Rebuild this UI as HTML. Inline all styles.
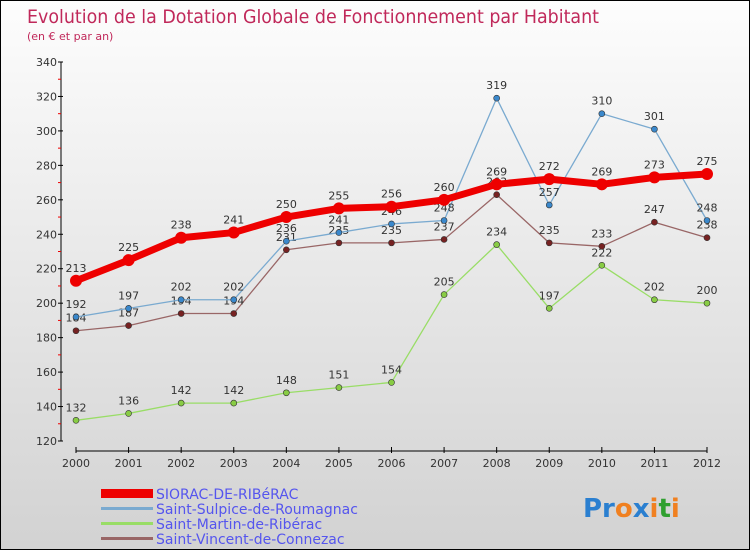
<!DOCTYPE html>
<html><head><meta charset="utf-8"><style>
body{margin:0}
#c{width:750px;height:550px;position:relative;box-sizing:border-box;border:1px solid #000;background:linear-gradient(#fdfdfd,#d2d2d2);font-family:"DejaVu Sans","Liberation Sans",sans-serif;overflow:hidden}
svg text{font-family:"DejaVu Sans","Liberation Sans",sans-serif}
</style></head><body>
<div id="c">
<svg id="s" width="750" height="550">
<text x="26" y="22" font-size="19" fill="#c0285a" textLength="572" lengthAdjust="spacingAndGlyphs">Evolution de la Dotation Globale de Fonctionnement par Habitant</text>
<text x="26" y="39" font-size="11" fill="#c0285a">(en € et par an)</text>
<g id="ax"></g><g id="ser"></g>
<g>
<rect x="100" y="488" width="52" height="9" fill="#e00"/>
<text x="155" y="498" font-size="14" fill="#5555ee">SIORAC-DE-RIBéRAC</text>
<rect x="100" y="506" width="52" height="3" fill="#7aaad0"/>
<text x="155" y="513" font-size="14" fill="#5555ee">Saint-Sulpice-de-Roumagnac</text>
<rect x="100" y="521" width="52" height="3" fill="#99dd66"/>
<text x="155" y="528" font-size="14" fill="#5555ee">Saint-Martin-de-Ribérac</text>
<rect x="100" y="536" width="52" height="3" fill="#996666"/>
<text x="155" y="543" font-size="14" fill="#5555ee">Saint-Vincent-de-Connezac</text>
</g>
<text x="582" y="516" font-size="26" font-weight="bold"><tspan fill="#2a7fd0">Pr</tspan><tspan fill="#f08020">o</tspan><tspan fill="#2a7fd0">x</tspan><tspan fill="#f08020">i</tspan><tspan fill="#30a030">t</tspan><tspan fill="#f08020">i</tspan></text>
</svg>
</div>
<script>
const years=[2000,2001,2002,2003,2004,2005,2006,2007,2008,2009,2010,2011,2012];
const yTicks=[120,140,160,180,200,220,240,260,280,300,320,340];
const siorac=[213,225,238,241,250,255,256,260,269,272,269,273,275];
const sulpice=[192,197,202,202,236,241,246,248,319,257,310,301,248];
const martin=[132,136,142,142,148,151,154,205,234,197,222,202,200];
const vincent=[184,187,194,194,231,235,235,237,263,235,233,247,238];
const NS='http://www.w3.org/2000/svg';
function X(i){return 75+i*(706-75)/12;}
function Y(v){return 440-(v-120)*(440-61)/220;}
function mk(t,a,p){const e=document.createElementNS(NS,t);for(const k in a)e.setAttribute(k,a[k]);p.appendChild(e);return e;}
const ax=document.getElementById('ax');
let e=mk('line',{x1:60,y1:Y(340),x2:60,y2:440,stroke:'#000'},ax);


yTicks.forEach(v=>{
 mk('line',{x1:57,x2:62,y1:Y(v),y2:Y(v),stroke:'#000'},ax);
 if(v<340)mk('line',{x1:57,x2:60,y1:Y(v+10),y2:Y(v+10),stroke:'#e00'},ax);
 const t=mk('text',{x:56,y:Y(v)+4,'text-anchor':'end','font-size':11,fill:'#333'},ax);
 t.textContent=v;
 
 
});
e=mk('line',{x1:75,y1:450,x2:706,y2:450,stroke:'#000'},ax);


years.forEach((y,i)=>{
 mk('line',{x1:X(i),x2:X(i),y1:446,y2:452,stroke:'#000'},ax);
 const t=mk('text',{x:X(i),y:466,'text-anchor':'middle','font-size':11,fill:'#333'},ax);
 t.textContent=y;
 
 
});
const ser=document.getElementById('ser');
function draw(data,col,dot,w,r,name,first){
 const g=mk('g',{},ser);
 
 
 const pl=mk('polyline',{points:data.map((v,i)=>X(i)+','+Y(v)).join(' '),fill:'none',stroke:col,'stroke-width':w,'stroke-linejoin':'round'},g);
 
 
 data.forEach((v,i)=>{
  const c=mk('circle',{cx:X(i),cy:Y(v),r:r,fill:dot,stroke:'#333','stroke-width':first?0:0.6},g);
  
  
  const t=mk('text',{x:X(i),y:Y(v)-9,'text-anchor':'middle','font-size':11,fill:'#333'},g);
  t.textContent=v;
  
  
 });
}
draw(martin,'#99dd66','#88cc44',1.3,3,'martin');
draw(vincent,'#996666','#772222',1.3,3,'vincent');
draw(sulpice,'#7aaad0','#3a88cc',1.3,3,'sulpice');
draw(siorac,'#ee0000','#ee0000',7,6,'siorac',true);
</script>
</body></html>
